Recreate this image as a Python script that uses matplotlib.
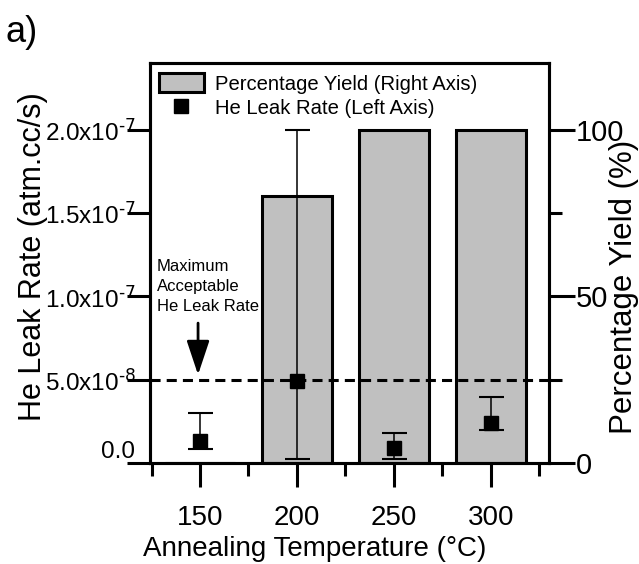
import matplotlib
matplotlib.use("Agg")
import matplotlib.pyplot as plt
from matplotlib.ticker import FixedLocator

plt.rcParams['font.family'] = ['Liberation Sans', 'DejaVu Sans']
plt.rcParams['mathtext.default'] = 'regular'

# annealing temperatures (C)
temps = [150, 200, 250, 300]

# percentage yield, right axis
yield_pct = [0, 80, 100, 100]

# He leak rate (atm.cc/s), left axis, with lower/upper error bounds
leak_rate = [1.3e-8, 4.9e-8, 0.9e-8, 2.4e-8]
leak_low = [0.83e-8, 0.24e-8, 0.24e-8, 1.96e-8]
leak_high = [2.98e-8, 2.0e-7, 1.79e-8, 3.99e-8]

max_leak = 5.0e-8

left_ticks = [0.0, 5.0e-8, 1.0e-7, 1.5e-7, 2.0e-7]
left_ticklabels = ['0.0', r'5.0x10$^{\text{-8}}$', r'1.0x10$^{\text{-7}}$',
                   r'1.5x10$^{\text{-7}}$', r'2.0x10$^{\text{-7}}$']

LW = 2.2

fig = plt.figure(figsize=(6.39, 5.64), dpi=100)
ax = fig.add_axes([0.2347, 0.179, 0.6244, 0.709])
ax2 = ax.twinx()

# bars on the right axis, leak data on the left axis drawn on top
ax.set_zorder(ax2.get_zorder() + 1)
ax.patch.set_visible(False)

bars = ax2.bar(temps, yield_pct, width=36, color='#c0c0c0',
               edgecolor='black', linewidth=LW,
               label='Percentage Yield (Right Axis)')

yerr = [[r - lo for r, lo in zip(leak_rate, leak_low)],
        [hi - r for r, hi in zip(leak_rate, leak_high)]]
ax.errorbar(temps, leak_rate, yerr=yerr, fmt='none', ecolor='black',
            elinewidth=1.1, capsize=9, capthick=1.5, zorder=3)
pts, = ax.plot(temps, leak_rate, 's', color='black', markersize=9.5,
               label='He Leak Rate (Left Axis)', zorder=4)

ax.axhline(max_leak, color='black', linewidth=LW,
           linestyle=(0, (3.3, 2.0)), zorder=2)

ax.annotate('', xy=(149, 5.3e-8), xytext=(149, 8.4e-8),
            arrowprops=dict(arrowstyle='-|>,head_length=1.05,head_width=0.35',
                            mutation_scale=20, lw=2, color='black',
                            shrinkA=0, shrinkB=0))
ax.text(127.8, 1.225e-7, 'Maximum\nAcceptable\nHe Leak Rate',
        fontsize=12, va='top', ha='left', linespacing=1.4)

# axes ranges
ax.set_xlim(124.2, 330)
ax.set_ylim(0, 2.4e-7)
ax2.set_ylim(0, 120)

ax.xaxis.set_major_locator(FixedLocator(temps))
ax.xaxis.set_minor_locator(FixedLocator([125, 175, 225, 275, 325]))
ax.set_yticks(left_ticks)
ax.set_yticklabels(left_ticklabels)
ax2.yaxis.set_major_locator(FixedLocator([0, 50, 100]))
ax2.yaxis.set_minor_locator(FixedLocator([25, 75]))

ax.tick_params(axis='x', which='major', direction='out', length=17,
               width=LW, labelsize=20, pad=13)
ax.tick_params(axis='x', which='minor', direction='out', length=9.5, width=LW)
ax.tick_params(axis='y', which='major', direction='out', length=16.5,
               width=LW, labelsize=17.5, pad=-6)
ax2.tick_params(axis='y', which='major', direction='out', length=18.5,
                width=LW, labelsize=21, pad=1)
ax2.tick_params(axis='y', which='minor', direction='out', length=9.5, width=LW)

for lab in ax.get_yticklabels():
    if lab.get_text() == '0.0':
        lab.set_verticalalignment('bottom')
    else:
        lab.set_verticalalignment('center_baseline')

for a in (ax, ax2):
    for s in a.spines.values():
        s.set_linewidth(LW)

ax.set_xlabel('Annealing Temperature (°C)', fontsize=20, labelpad=0)
ax.xaxis.set_label_coords(0.414, -0.183)
ax.set_ylabel('He Leak Rate (atm.cc/s)', fontsize=22)
ax.yaxis.set_label_coords(-0.255, 0.515)
ax2.set_ylabel('Percentage Yield (%)', fontsize=22.5)
ax2.yaxis.set_label_coords(1.15, 0.44)

ax.legend(handles=[bars, pts], loc='upper left',
          bbox_to_anchor=(0.0226, 0.975), frameon=False, fontsize=14.6,
          borderaxespad=0, borderpad=0, handlelength=2.2, handleheight=1.08,
          handletextpad=0.55, labelspacing=0.2)

fig.text(0.008, 0.925, 'a)', fontsize=26, ha='left', va='baseline')

fig.savefig('out.png', dpi=100)
